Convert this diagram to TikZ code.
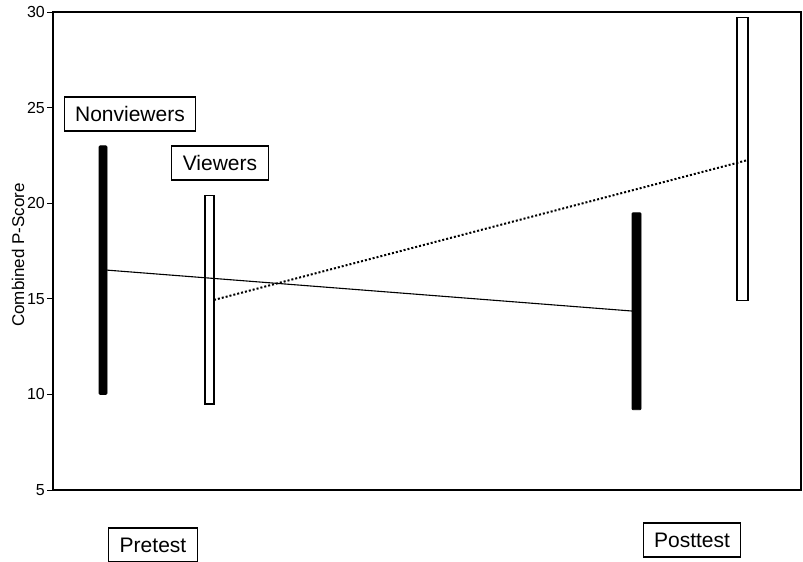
\documentclass[tikz,border=0pt]{standalone}
\usepackage{fontspec}
\setmainfont{Liberation Sans}
\usepackage{tikz}
\usetikzlibrary{calc}

\begin{document}
\begin{tikzpicture}[
            x=1pt, y=1pt,
            group label/.style={draw, line width=1.1pt, font=\fontsize{21}{21}\selectfont, inner xsep=11pt, minimum height=34pt},
            tick label/.style={font=\fontsize{16}{16}\selectfont, anchor=east, inner sep=1pt},
            bar nonviewers/.style={fill=black, draw=black, line width=0.8pt, rounded corners=1pt},
            bar viewers/.style={fill=white, draw=black, line width=1.1pt}
        ]
        \useasboundingbox (0,-72) rectangle (803,490);

        \begin{scope}[y=19.12pt, yshift=-95.6pt]
            % frame and ticks
            \draw[line width=1.4pt] (53,5) rectangle (801,30);
            \foreach \v in {5,10,...,30} {
                \draw[line width=0.9pt] (47,\v) -- (53,\v);
                \node[tick label] (tick\v) at (46,\v) {\v};
            }

            % bars
            \draw[bar nonviewers] (99,10) rectangle (107,23);
            \draw[bar viewers] (205,9.5) rectangle (214,20.4);
            \draw[bar nonviewers] (632,9.2) rectangle (641,19.5);
            \draw[bar viewers] (737,14.9) rectangle (748,29.7);

            % means
            \coordinate (nvPre) at (107,16.5);
            \coordinate (nvPost) at (632,14.36);
            \coordinate (vPre) at (214,14.94);
            \coordinate (vPost) at (748,22.26);
            \draw[line width=1.1pt] (nvPre) -- (nvPost);
            \draw[line width=2pt, dash pattern=on 2pt off 2pt] (vPre) -- (vPost);
        \end{scope}

        \node[group label] (nonviewers) at (130,376) {Nonviewers};
        \node[group label] (viewers) at (220,327) {Viewers};
        \node[group label] (pretest) at (153,-55) {Pretest};
        \node[group label] (posttest) at (692,-50) {Posttest};
        \node[rotate=90, font=\fontsize{17}{17}\selectfont] (ylabel) at (18,235) {Combined P-Score};
    \end{tikzpicture}
\end{document}
